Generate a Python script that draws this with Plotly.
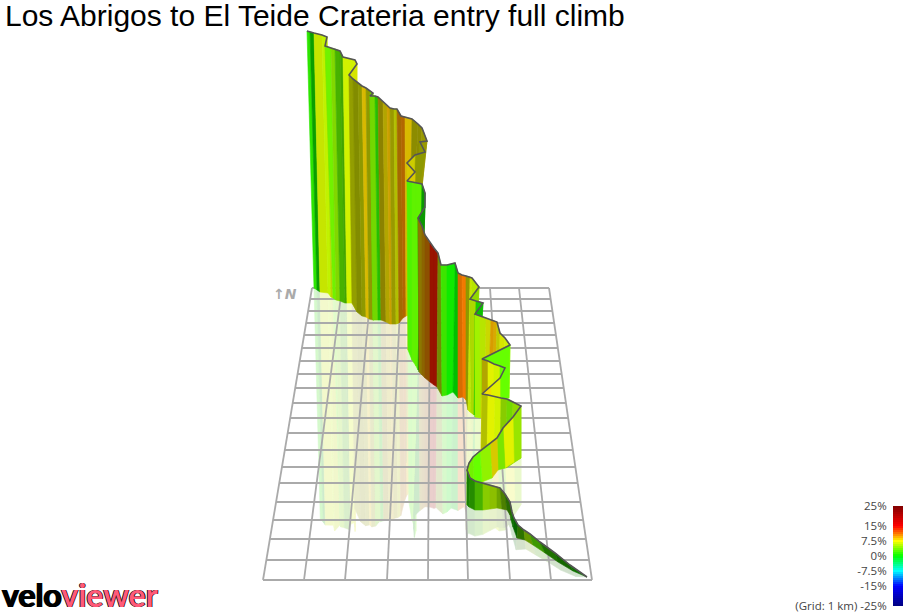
# veloviewer style 3D profile, drawn flat on a pixel-sized axis
import plotly.graph_objects as go

TITLE = "Los Abrigos to El Teide Crateria entry full climb"

# route, far end of the climb first
top_x = [307, 310, 314, 322, 327, 325, 331, 335, 340, 343, 350, 355, 357, 349, 353, 358, 362, 366, 370, 373,
         370, 375, 378, 383, 387, 390, 394, 397, 401, 405, 409, 412, 418, 422, 427, 420, 425, 415, 407, 415,
         407, 412, 416, 422, 425, 425, 418, 422, 425, 430, 434, 438, 441, 447, 455, 458, 462, 466, 470, 472,
         479, 470, 476, 483, 475, 480, 486, 491, 494, 497, 500, 505, 510,
         482, 488, 494, 500, 505, 500, 491,
         482, 488, 495, 501, 507, 513, 521, 513, 503, 497,
         490, 480, 473, 469, 467, 470, 475, 483, 490, 497, 500, 505, 510, 512, 514, 518, 524, 530, 540, 555, 570, 587]
top_y = [31, 32, 33, 35, 37, 46, 48, 49, 51, 57, 59, 60, 64, 75, 79, 83, 86, 88, 91, 93,
         96, 96, 97, 102, 106, 108, 109, 109, 116, 117, 118, 119, 124, 128, 141, 142, 152, 155, 163, 172,
         181, 182, 183, 184, 193, 207, 218, 226, 235, 243, 248, 253, 265, 265, 263, 273, 275, 276, 277, 278,
         287, 299, 301, 303, 314, 316, 318, 320, 321, 322, 333, 338, 345,
         359, 361, 364, 366, 368, 378, 386,
         394, 395, 397, 398, 399, 402, 406, 417, 428, 438,
         443, 451, 457, 463, 470, 478, 481, 483, 485, 487, 488, 494, 502, 512, 518, 525, 530, 534, 542, 553, 565, 577]
base_x = [314, 317, 320, 328, 331, 333, 336, 340, 345, 347, 352, 355, 356, 352, 357, 362, 366, 369, 373, 376,
          373, 378, 381, 386, 390, 392, 396, 399, 403, 406, 409, 409, 412, 416, 420, 417, 416, 412, 410, 412,
          408, 412, 416, 418, 419, 419, 419, 422, 425, 430, 434, 437, 442, 447, 453, 458, 463, 466, 468, 470,
          474, 472, 474, 476, 475, 480, 485, 488, 492, 495, 499, 503, 509,
          482, 488, 494, 500, 504, 500, 491,
          481, 487, 494, 500, 506, 512, 521, 514, 505, 498,
          492, 482, 474, 470, 467, 469, 475, 483, 490, 497, 502, 507, 510, 511, 513, 517, 525, 533, 545, 558, 573, 587]
base_y = [288, 290, 292, 293, 297, 298, 300, 301, 303, 303, 303, 306, 310, 303, 312, 316, 317, 319, 320, 319,
          320, 320, 320, 322, 324, 324, 324, 323, 318, 316, 315, 300, 250, 230, 205, 215, 205, 240, 320, 300,
          350, 360, 366, 370, 370, 370, 372, 375, 378, 382, 385, 387, 396, 395, 392, 398, 397, 400, 410, 412,
          415, 413, 415, 415, 417, 418, 415, 405, 402, 400, 398, 398, 398,
          398, 398, 398, 398, 398, 398, 398,
          455, 460, 465, 468, 468, 464, 458, 462, 468, 470,
          478, 482, 482, 478, 505, 507, 510, 510, 509, 508, 509, 510, 515, 520, 527, 538, 540, 545, 553, 562, 571, 577]
# gradient (%) of the stretch that starts at each point, and how lit its side is
route_grad = [1.5, 0.5, 6.5, 6, 6.5, 3.5, 4.5, 3, 3, 6.5, 6.5, 7, 7, 7, 7, 7, 8.5, 7, 4, 4,
              4, 1.5, 8, 8, 9, 7.5, 7, 10, 10.5, 8.5, 8.5, 7.5, 7.5, 7.5, 7.5, 7, 7, 7.5, 8, 8,
              2.5, 3, 3, 0.5, 0.5, 0.5, 8.5, 9.5, 10.5, 14, 14, 6, 2, 0.5, 0, 11, 11, 7, 6.5, 6,
              5, 6, 1, 0.5, 5, 6, 7, 9.5, 9, 7, 7, 6.5, 3,
              8, 7, 6.5, 3, 3, 7, 8,
              7, 7, 6.5, 5, 4, 5, 5, 7, 4, 8,
              4.5, 3, 3.5, 4.5, 1.5, 2, 3, 5, 5.5, 5, 4.5, 3, 3, 1, 0.5, 3, 5, 3, 2, 1.5, 1, 1]
route_light = [0.9, 0.62, 0.9, 0.95, 0.85, 0.95, 0.85, 0.7, 0.65, 0.95, 0.95, 0.9, 0.9, 0.62, 0.55, 0.6, 0.85, 0.6, 0.8, 0.8,
               0.85, 0.75, 0.55, 0.7, 0.8, 0.6, 0.75, 0.65, 0.7, 0.85, 0.85, 0.55, 0.55, 0.6, 0.6, 0.6, 0.6, 0.8, 0.85, 0.85,
               0.95, 0.95, 0.95, 0.6, 0.6, 0.6, 0.55, 0.55, 0.55, 0.6, 0.6, 0.55, 0.9, 0.92, 0.75, 0.85, 0.95, 0.6, 0.9, 0.9,
               0.85, 0.85, 0.8, 0.75, 0.95, 0.9, 0.85, 0.85, 0.85, 0.8, 0.9, 0.95, 1,
               0.7, 0.95, 0.95, 1, 1, 0.95, 0.95,
               0.75, 0.95, 0.95, 0.8, 0.85, 0.85, 0.9, 0.95, 0.9, 0.85,
               0.95, 1, 0.95, 0.9, 0.5, 0.55, 0.7, 0.8, 0.75, 0.65, 0.5, 0.42, 0.42, 0.45, 0.4, 0.45, 0.6, 0.6, 0.45, 0.4, 0.45, 0.45]

# ground grid
grid_front_x = [263, 304, 345, 387, 428, 468, 510, 551, 592]
grid_back_x = [312, 342, 371, 401, 430, 460, 490, 519, 549]
grid_y = [288, 299, 311, 323, 335, 348, 361, 374, 388, 403, 418, 433, 450, 467, 483, 502, 520, 539, 560, 580]

# gradient scale
scale_pct = [-25, -15, -7.5, 0, 7.5, 11, 15, 25]
scale_rgb = [(0, 0, 128), (0, 0, 255), (0, 255, 255), (0, 255, 0), (255, 255, 0), (255, 128, 0), (255, 0, 0), (128, 0, 0)]
scale_ticks = [25, 15, 7.5, 0, -7.5, -15, -25]
scale_labels = ["25%", "15%", "7.5%", "0%", "-7.5%", "-15%", "(Grid: 1 km) -25%"]

W, H = 905, 613
MIRROR = 0.9


def grad_rgb(g):
    for i in range(len(scale_pct) - 1):
        if g <= scale_pct[i + 1]:
            t = (g - scale_pct[i]) / (scale_pct[i + 1] - scale_pct[i])
            return [a + (b - a) * t for a, b in zip(scale_rgb[i], scale_rgb[i + 1])]
    return list(scale_rgb[-1])


def css(rgb):
    return "rgb(%d,%d,%d)" % tuple(rgb)


def add_strip(fig, xs, ys, color):
    fig.add_trace(go.Scatter(x=xs, y=ys, mode="lines", fill="toself", fillcolor=color,
                             line=dict(color=color, width=0.6), hoverinfo="skip", showlegend=False))


fig = go.Figure()

# pale reflection on the ground
for i in range(len(top_x) - 1):
    j = i + 1
    mx = [base_x[k] + MIRROR * (base_x[k] - top_x[k]) for k in (i, j)]
    my = [base_y[k] + MIRROR * (base_y[k] - top_y[k]) for k in (i, j)]
    rgb = [255 + (c * route_light[i] - 255) * 0.2 for c in grad_rgb(route_grad[i])]
    add_strip(fig, [base_x[i], base_x[j], mx[1], mx[0], base_x[i]],
              [base_y[i], base_y[j], my[1], my[0], base_y[i]], css(rgb))

# grid lines
gx, gy = [], []
for fx, bx in zip(grid_front_x, grid_back_x):
    gx += [fx, bx, None]
    gy += [grid_y[-1], grid_y[0], None]
for y in grid_y:
    t = (y - grid_y[0]) / (grid_y[-1] - grid_y[0])
    gx += [grid_back_x[0] + (grid_front_x[0] - grid_back_x[0]) * t,
           grid_back_x[-1] + (grid_front_x[-1] - grid_back_x[-1]) * t, None]
    gy += [y, y, None]
fig.add_trace(go.Scatter(x=gx, y=gy, mode="lines", line=dict(color="#aaaaaa", width=1.8),
                         hoverinfo="skip", showlegend=False))

# the wall itself, back to front
for i in range(len(top_x) - 1):
    j = i + 1
    rgb = [c * route_light[i] for c in grad_rgb(route_grad[i])]
    add_strip(fig, [top_x[i], top_x[j], base_x[j], base_x[i], top_x[i]],
              [top_y[i], top_y[j], base_y[j], base_y[i], top_y[i]], css(rgb))

fig.add_trace(go.Scatter(x=top_x, y=top_y, mode="lines", line=dict(color="#555555", width=1.6),
                         hoverinfo="skip", showlegend=False))

# gradient key
levels = list(range(-25, 25))
fig.add_trace(go.Bar(x=[0] * len(levels), y=[1] * len(levels), base=levels, width=1, xaxis="x2", yaxis="y2",
                     marker=dict(color=[css(grad_rgb(v + 0.5)) for v in levels], line=dict(width=0)),
                     hoverinfo="skip", showlegend=False))

fig.update_layout(
    template="none", barmode="overlay",
    width=W, height=H, margin=dict(l=0, r=0, t=0, b=0, pad=0), paper_bgcolor="white", plot_bgcolor="rgba(0,0,0,0)",
    xaxis=dict(range=[0, W], visible=False, domain=[0, 1], automargin=False),
    yaxis=dict(range=[H, 0], visible=False, domain=[0, 1], automargin=False),
    xaxis2=dict(domain=[893 / W, 903 / W], range=[-0.5, 0.5], visible=False, anchor="y2", automargin=False),
    yaxis2=dict(domain=[(H - 606) / H, (H - 506) / H], range=[-25, 25], anchor="x2", side="left", automargin=False,
                tickvals=scale_ticks, ticktext=scale_labels, ticks="outside", ticklen=3,
                ticklabeloverflow="allow",
                tickcolor="rgba(0,0,0,0)", showgrid=False, showline=False, zeroline=False,
                tickfont=dict(family="Open Sans", size=11.5, color="#444444")),
    annotations=[
        dict(x=3, y=15, xref="x", yref="y", xanchor="left", yanchor="middle", showarrow=False, text=TITLE,
             font=dict(family="Liberation Sans", size=30, color="black")),
        dict(x=285, y=294, xref="x", yref="y", showarrow=False, text="<b><i>↑N</i></b>",
             font=dict(family="DejaVu Sans", size=14, color="#aaaaaa")),
        dict(x=0, y=594, xref="x", yref="y", xanchor="left", yanchor="middle", showarrow=False,
             text="<b>velo<span style='color:#ff5a78'>viewer</span></b>",
             font=dict(family="Lato", size=32, color="black", weight=900,
                       shadow="0.8px 0 0 currentColor, -0.8px 0 0 currentColor")),
    ],
)

# the page has no margin of its own here, so pixels line up with the axis
fig.write_html("out.html", config={"displayModeBar": False}, post_script="document.body.style.margin='0';")
